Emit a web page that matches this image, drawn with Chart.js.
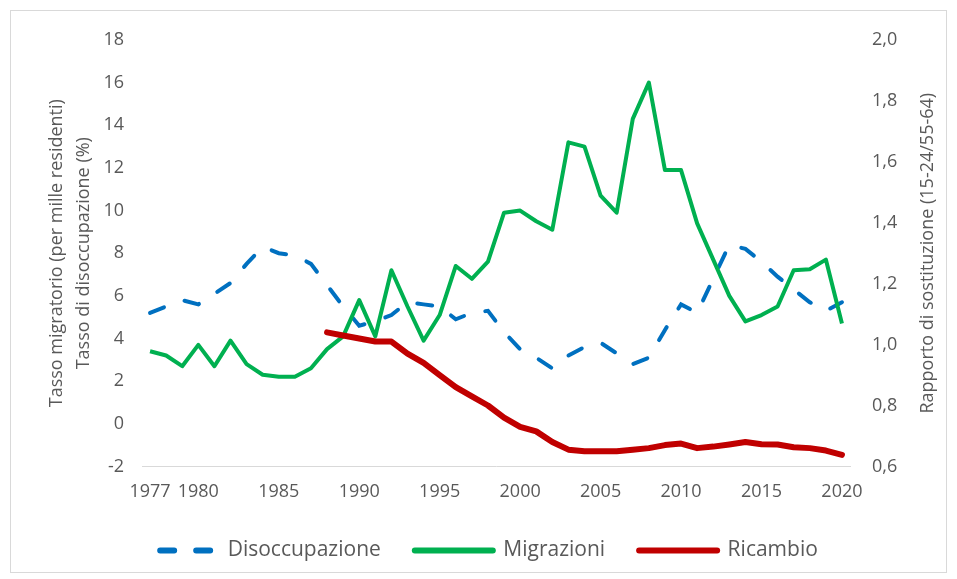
<!DOCTYPE html>
<html>
<head>
<meta charset="utf-8">
<script src="https://cdn.jsdelivr.net/npm/chart.js@4"></script>
<style>
html, body { margin: 0; padding: 0; background: #fff; }
#wrap { position: relative; width: 957px; height: 579px; }
canvas { display: block; }
</style>
</head>
<body>
<div id="wrap"><canvas id="chart" width="957" height="579"></canvas></div>
<script>
var years = ['1977','1978','1979','1980','1981','1982','1983','1984','1985','1986',
             '1987','1988','1989','1990','1991','1992','1993','1994','1995','1996',
             '1997','1998','1999','2000','2001','2002','2003','2004','2005','2006',
             '2007','2008','2009','2010','2011','2012','2013','2014','2015','2016',
             '2017','2018','2019','2020'];
var shownYears = ['1977','1980','1985','1990','1995','2000','2005','2010','2015','2020'];

// tasso di disoccupazione (%)
var disoccupazione = [5.2, 5.5, 5.8, 5.6, 6.1, 6.6, 7.5, 8.3, 8.0, 7.9,
                      7.5, 6.5, 5.5, 4.6, 4.8, 5.1, 5.7, 5.6, 5.5, 4.9,
                      5.2, 5.3, 4.3, 3.5, 3.1, 2.6, 3.2, 3.6, 3.8, 3.3,
                      2.8, 3.1, 4.4, 5.6, 5.2, 6.8, 8.4, 8.2, 7.6, 6.9,
                      6.3, 5.7, 5.3, 5.7];
// tasso migratorio (per mille residenti)
var migrazioni = [3.4, 3.2, 2.7, 3.7, 2.7, 3.9, 2.8, 2.3, 2.2, 2.2,
                  2.6, 3.5, 4.1, 5.8, 4.1, 7.2, 5.5, 3.9, 5.1, 7.4,
                  6.8, 7.6, 9.9, 10.0, 9.5, 9.1, 13.2, 13.0, 10.7, 9.9,
                  14.3, 16.0, 11.9, 11.9, 9.4, 7.7, 6.0, 4.8, 5.1, 5.5,
                  7.2, 7.25, 7.7, 4.7];
// rapporto di sostituzione (15-24 / 55-64)
var ricambio = [null, null, null, null, null, null, null, null, null, null,
                null, 1.04, 1.03, 1.02, 1.01, 1.01, 0.97, 0.94, 0.90, 0.86,
                0.83, 0.80, 0.76, 0.73, 0.715, 0.68, 0.655, 0.65, 0.65, 0.65,
                0.655, 0.66, 0.67, 0.675, 0.66, 0.665, 0.672, 0.68, 0.673, 0.672,
                0.663, 0.66, 0.652, 0.638];

var textColor = '#595959';
var fontFamily = '"Open Sans", "Noto Sans", sans-serif';

var rightTitle = {
    id: 'rightTitle',
    afterDraw: function(chart) {
        var ctx = chart.ctx;
        ctx.save();
        ctx.translate(928, chart.chartArea.top + (chart.chartArea.bottom - chart.chartArea.top) / 2);
        ctx.rotate(-Math.PI / 2);
        ctx.fillStyle = textColor;
        ctx.font = '18px ' + fontFamily;
        ctx.textAlign = 'center';
        ctx.textBaseline = 'middle';
        ctx.fillText('Rapporto di sostituzione (15-24/55-64)', 0, 0);
        ctx.restore();
    }
};

var frame = {
    id: 'frame',
    beforeDraw: function(chart) {
        var ctx = chart.ctx;
        ctx.save();
        ctx.fillStyle = '#fff';
        ctx.fillRect(0, 0, chart.width, chart.height);
        ctx.strokeStyle = '#d9d9d9';
        ctx.lineWidth = 1;
        ctx.strokeRect(10.5, 10.5, 936, 562);
        ctx.restore();
    }
};

var ctx = document.getElementById('chart').getContext('2d');
var myChart = new Chart(ctx, {
    type: 'line',
    data: {
        labels: years,
        datasets: [{
            label: 'Disoccupazione',
            data: disoccupazione,
            yAxisID: 'y',
            order: 3,
            borderColor: '#0070C0',
            backgroundColor: '#0070C0',
            borderWidth: 4,
            borderDash: [15, 22],
            borderCapStyle: 'round',
            pointRadius: 0,
            tension: 0
        }, {
            label: 'Migrazioni',
            data: migrazioni,
            yAxisID: 'y',
            order: 2,
            borderColor: '#00B050',
            backgroundColor: '#00B050',
            borderWidth: 4,
            borderJoinStyle: 'round',
            pointRadius: 0,
            tension: 0
        }, {
            label: 'Ricambio',
            data: ricambio,
            yAxisID: 'y1',
            order: 1,
            borderColor: '#C00000',
            backgroundColor: '#C00000',
            borderWidth: 6,
            borderCapStyle: 'round',
            borderJoinStyle: 'round',
            pointRadius: 0,
            tension: 0
        }]
    },
    options: {
        responsive: false,
        animation: false,
        layout: { padding: { left: 0, right: 0, top: 40, bottom: 8 } },
        plugins: {
            tooltip: { enabled: false },
            legend: {
                position: 'bottom',
                labels: {
                    color: textColor,
                    font: { size: 21, family: fontFamily },
                    usePointStyle: true,
                    pointStyleWidth: 78,
                    boxHeight: 21,
                    padding: 34,
                    generateLabels: function(chart) {
                        return chart.data.datasets.map(function(ds, i) {
                            return {
                                text: ds.label,
                                fillStyle: ds.borderColor,
                                strokeStyle: ds.borderColor,
                                lineWidth: 6,
                                lineDash: ds.borderDash ? [14, 22] : [],
                                lineDashOffset: 15,
                                lineCap: 'round',
                                pointStyle: 'line',
                                fontColor: textColor,
                                hidden: false,
                                datasetIndex: i
                            };
                        });
                    }
                }
            }
        },
        scales: {
            x: {
                offset: true,
                grid: { display: false, drawTicks: false },
                border: { display: true, color: '#d9d9d9', width: 1 },
                ticks: {
                    autoSkip: false,
                    maxRotation: 0,
                    minRotation: 0,
                    padding: 15,
                    color: textColor,
                    font: { size: 18, family: fontFamily },
                    callback: function(v, i) {
                        var l = years[i];
                        return shownYears.indexOf(l) >= 0 ? l : '';
                    }
                },
                afterFit: function(scale) { scale.height = scale.height - 12; }
            },
            y: {
                position: 'left',
                min: -2,
                max: 18,
                grid: { display: false, drawTicks: false },
                border: { display: false },
                ticks: {
                    stepSize: 2,
                    padding: 18,
                    color: textColor,
                    font: { size: 18, family: fontFamily }
                },
                title: {
                    display: true,
                    text: ['Tasso migratorio (per mille residenti)', 'Tasso di disoccupazione (%)'],
                    color: textColor,
                    font: { size: 18, family: fontFamily, lineHeight: 1.5 },
                    padding: { top: 43, bottom: 0 }
                },
                afterFit: function(scale) { scale.width = 142; }
            },
            y1: {
                position: 'right',
                min: 0.6,
                max: 2.0,
                grid: { display: false, drawTicks: false },
                border: { display: false },
                ticks: {
                    stepSize: 0.2,
                    padding: 22,
                    color: textColor,
                    font: { size: 18, family: fontFamily },
                    callback: function(v) { return v.toFixed(1).replace('.', ','); }
                },
                afterFit: function(scale) { scale.width = 107; }
            }
        }
    },
    plugins: [frame, rightTitle]
});
</script>
</body>
</html>
